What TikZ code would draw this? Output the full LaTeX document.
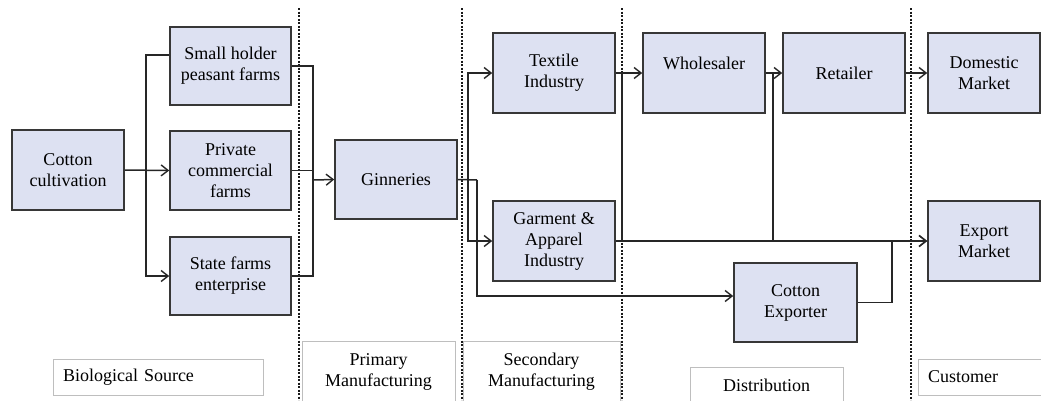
\documentclass[tikz,border=0pt]{standalone}
\usepackage{fontspec}
\setmainfont{Liberation Serif}
\usetikzlibrary{arrows.meta}
\definecolor{boxfill}{RGB}{221,225,242}
\definecolor{boxline}{RGB}{55,55,55}
\definecolor{lblline}{RGB}{190,190,190}
\begin{document}
\begin{tikzpicture}[x=1pt,y=-1pt,
  every node/.style={font=\rmfamily\fontsize{18}{21}\selectfont, align=center, inner sep=0pt},
  stagebox/.style={draw=boxline, fill=boxfill, line width=1.6pt},
  lblbox/.style={draw=lblline, line width=0.8pt},
  conn/.style={draw=black!85, line width=1.5pt},
  arr/.style={conn, -{Straight Barb[length=7pt,width=11pt,line width=1.4pt]}},
  divider/.style={draw=black!90, line width=1.7pt, dash pattern=on 2.2pt off 1.3pt}
]
\useasboundingbox (0,0) rectangle (1041,400);
\fill[white] (0,0) rectangle (1041,400);

% dividers
\draw[divider] (299,8) -- (299,400);
\draw[divider] (462,8) -- (462,400);
\draw[divider] (622,8) -- (622,400);
\draw[divider] (911,8) -- (911,400);

% boxes
\node[stagebox, minimum width=112pt, minimum height=80pt] (cc) at (68,170) {Cotton\\cultivation};
\node[stagebox, minimum width=121pt, minimum height=78pt] (sh) at (230.5,66) {Small holder\\peasant farms};
\node[stagebox, minimum width=121pt, minimum height=79pt] (pc) at (230.5,170.5) {Private\\commercial\\farms};
\node[stagebox, minimum width=121pt, minimum height=78pt] (sf) at (230.5,276) {State farms\\enterprise};
\node[stagebox, minimum width=122pt, minimum height=79pt] (gin) at (396,179.5) {Ginneries};
\node[stagebox, minimum width=122pt, minimum height=80pt] (tex) at (554,73) {Textile\\Industry};
\node[stagebox, minimum width=122pt, minimum height=80pt] (gar) at (554,241) {Garment \&\\Apparel\\Industry};
\node[stagebox, minimum width=122pt, minimum height=80pt, label={[yshift=10pt, font=\rmfamily\fontsize{18}{21}\selectfont]center:Wholesaler}] (who) at (704,73) {};
\node[stagebox, minimum width=122pt, minimum height=80pt] (ret) at (844,73) {Retailer};
\node[stagebox, minimum width=112pt, minimum height=80pt] (dom) at (984,73) {Domestic\\Market};
\node[stagebox, minimum width=112pt, minimum height=80pt] (exm) at (984,241) {Export\\Market};
\node[stagebox, minimum width=123pt, minimum height=79pt] (cex) at (795.5,302.5) {Cotton\\Exporter};

% junction coordinates
\coordinate (j1) at (146,170);
\coordinate (j2) at (313,180);
\coordinate (j3) at (468,180);
\coordinate (j4) at (477,180);
\coordinate (j5) at (622,73);
\coordinate (j6) at (773,73);
\coordinate (j7) at (892,241);

% connectors
\draw[arr] (cc.east) -- (pc.west);
\draw[arr] ([yshift=11pt]sh.west) -| (j1) |- (sf.west);

\draw[conn] (sh.east) -| (j2);
\draw[conn] (sf.east) -| (j2);
\draw[conn] (pc.east) -- (pc.east -| j2);
\draw[arr] (j2) -- (gin.west);

\draw[conn] (gin.east) -- (j4);
\draw[arr] (j3) |- (tex.west);
\draw[arr] (j3) |- (gar.west);
\draw[arr] (j4) |- ([yshift=6.5pt]cex.west);

\draw[arr] (tex.east) -- (who.west);
\draw[conn] (j5) -- (j5 |- gar.east);
\draw[arr] (gar.east) -- (exm.west);
\draw[arr] (who.east) -- (ret.west);
\draw[conn] (j6) -- (j6 |- gar.east);
\draw[arr] (ret.east) -- (dom.west);
\draw[conn] (cex.east) -| (j7);
\draw[arr, line width=2.4pt] (j7) -- (exm.west);

% stage labels
\node[lblbox, minimum width=210pt, minimum height=36pt, text width=190pt, align=left] (bio) at (158,377) {Biological Source};
\node[lblbox, minimum width=153pt, minimum height=62pt] (prim) at (378.5,372) {Primary\\Manufacturing};
\node[lblbox, minimum width=157pt, minimum height=62pt] (sec) at (541.5,372) {Secondary\\Manufacturing};
\node[lblbox, minimum width=153pt, minimum height=36pt] (dist) at (766.5,385) {Distribution};
\node[lblbox, minimum width=130pt, minimum height=36pt, text width=110pt, align=left] (cust) at (983,377) {Customer};
\end{tikzpicture}
\end{document}
